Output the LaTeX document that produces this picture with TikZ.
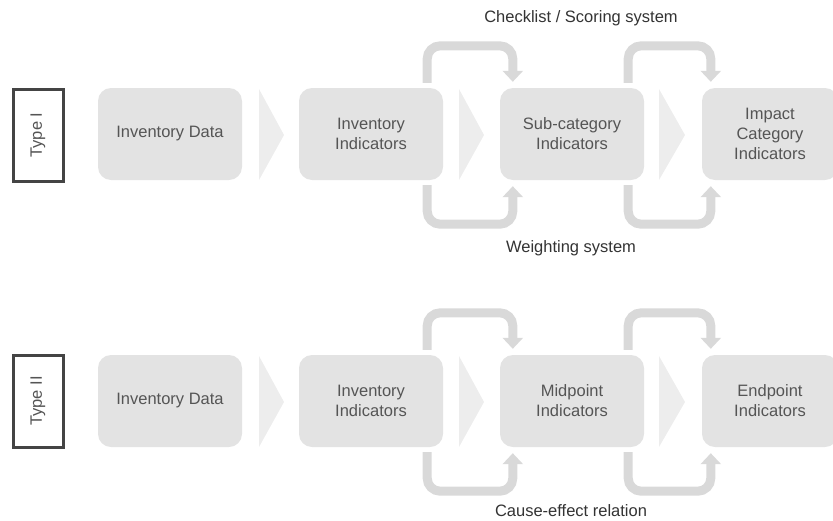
\documentclass[tikz,border=0pt]{standalone}
\usepackage{fontspec}
\setmainfont{Liberation Sans}
\usetikzlibrary{arrows.meta,calc}
\definecolor{boxfill}{HTML}{E3E3E3}
\definecolor{chevfill}{HTML}{EDEDED}
\definecolor{loopcol}{HTML}{D9D9D9}
\definecolor{txt}{HTML}{555555}
\definecolor{lbltxt}{HTML}{333333}
\definecolor{typeframe}{HTML}{444444}
\begin{document}
\begin{tikzpicture}[x=1pt,y=-1pt,
  stagebox/.style={draw=none,fill=boxfill,rounded corners=13pt,minimum width=144pt,minimum height=92pt,
    text=txt,align=center,font=\fontsize{16.5}{20}\selectfont,inner sep=0pt},
  lastbox/.style={stagebox,minimum width=136pt},
  typebox/.style={draw=typeframe,line width=3pt,fill=white,minimum width=50pt,minimum height=92pt,inner sep=0pt},
  typetext/.style={rotate=90,text=txt,font=\fontsize{16.5}{20}\selectfont},
  chev/.style={fill=chevfill,draw=none},
  loopline/.style={draw=loopcol,line width=9pt,rounded corners=13pt,-{Triangle[width=20pt,length=11pt]}},
  lbl/.style={text=lbltxt,font=\fontsize{16.5}{20}\selectfont}]
\useasboundingbox (0,0) rectangle (833,520);
\clip (0,0) rectangle (833,520);
% Row I
\node[typebox] (t1) at (38,135) {};
\node[typetext] (t1t) at (t1.center) {Type I};
\node[stagebox] (a1) at (170,134) {Inventory Data};
\node[stagebox] (b1) at (371,134) {Inventory\\Indicators};
\node[stagebox] (c1) at (572,134) {Sub-category\\Indicators};
\node[lastbox] (d1) at (770,134) {Impact\\Category\\Indicators};
\fill[chev] (259,89) -- (284,135) -- (259,180) -- cycle;
\fill[chev] (459,89) -- (484,135) -- (459,180) -- cycle;
\fill[chev] (659,89) -- (685,135) -- (659,180) -- cycle;
\draw[loopline] ([xshift=-16pt,yshift=5pt]b1.north east) -- ++(0,-37) -| ([xshift=13pt,yshift=6pt]c1.north west);
\draw[loopline] ([xshift=-16pt,yshift=-5pt]b1.south east) -- ++(0,39) -| ([xshift=13pt,yshift=-6pt]c1.south west);
\draw[loopline] ([xshift=-16pt,yshift=5pt]c1.north east) -- ++(0,-37) -| ([xshift=9pt,yshift=6pt]d1.north west);
\draw[loopline] ([xshift=-16pt,yshift=-5pt]c1.south east) -- ++(0,39) -| ([xshift=9pt,yshift=-6pt]d1.south west);
\node[lbl] (l1) at (581,18) {Checklist / Scoring system};
\node[lbl] (l2) at (571,248) {Weighting system};
% Row II
\node[typebox] (t2) at (38,401) {};
\node[typetext] (t2t) at (t2.center) {Type II};
\node[stagebox] (a2) at (170,401) {Inventory Data};
\node[stagebox] (b2) at (371,401) {Inventory\\Indicators};
\node[stagebox] (c2) at (572,401) {Midpoint\\Indicators};
\node[lastbox] (d2) at (770,401) {Endpoint\\Indicators};
\fill[chev] (259,356) -- (284,402) -- (259,447) -- cycle;
\fill[chev] (459,356) -- (484,402) -- (459,447) -- cycle;
\fill[chev] (659,356) -- (685,402) -- (659,447) -- cycle;
\draw[loopline] ([xshift=-16pt,yshift=5pt]b2.north east) -- ++(0,-37) -| ([xshift=13pt,yshift=6pt]c2.north west);
\draw[loopline] ([xshift=-16pt,yshift=-5pt]b2.south east) -- ++(0,39) -| ([xshift=13pt,yshift=-6pt]c2.south west);
\draw[loopline] ([xshift=-16pt,yshift=5pt]c2.north east) -- ++(0,-37) -| ([xshift=9pt,yshift=6pt]d2.north west);
\draw[loopline] ([xshift=-16pt,yshift=-5pt]c2.south east) -- ++(0,39) -| ([xshift=9pt,yshift=-6pt]d2.south west);
\node[lbl] (l3) at (571,511) {Cause-effect relation};
\end{tikzpicture}
\end{document}
